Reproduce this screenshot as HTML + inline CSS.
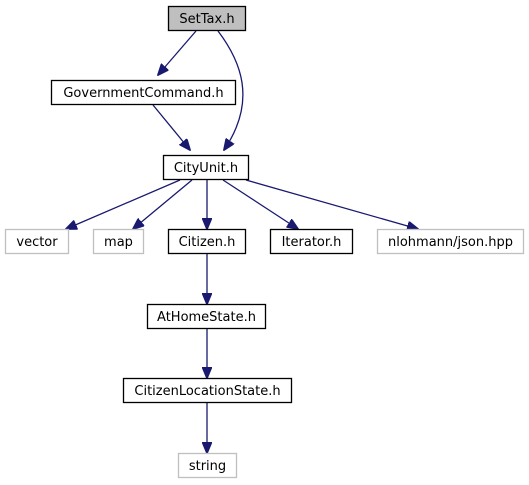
<!DOCTYPE html>
<html><head><meta charset="utf-8"><style>body{margin:0;background:#fff}svg{display:block}text{font-family:"DejaVu Sans","Liberation Sans",sans-serif;font-size:13px;fill:#000}</style></head><body>
<svg width="529" height="485" viewBox="0 0 529 485">
<defs><marker id="a" markerWidth="12" markerHeight="10" refX="11" refY="5" orient="auto" markerUnits="userSpaceOnUse"><path d="M0,0 L12,5 L0,10 z" fill="#191970" stroke="#191970"/></marker></defs>
<g fill="none" stroke="#191970" stroke-width="1.3">
<path d="M196,31 L158,75" marker-end="url(#a)"/>
<path d="M218,31 C240,60 258,100 224,150" marker-end="url(#a)"/>
<path d="M153,105 L190,150" marker-end="url(#a)"/>
<path d="M180,180 L66,229" marker-end="url(#a)"/>
<path d="M192,180 L133,229" marker-end="url(#a)"/>
<path d="M207,180 L207,229" marker-end="url(#a)"/>
<path d="M223,180 L298,229" marker-end="url(#a)"/>
<path d="M246,180 L418,229" marker-end="url(#a)"/>
<path d="M207,254 L207,304" marker-end="url(#a)"/>
<path d="M207,328 L207,378" marker-end="url(#a)"/>
<path d="M207,403 L207,453" marker-end="url(#a)"/>
</g>
<g stroke-width="1.3">
<rect x="168.5" y="6.5" width="77" height="24" fill="#bfbfbf" stroke="#000"/>
<rect x="51.5" y="80.5" width="184" height="24" fill="#fff" stroke="#000"/>
<rect x="163.5" y="155.5" width="85" height="24" fill="#fff" stroke="#000"/>
<rect x="5.5" y="229.5" width="63" height="24" fill="#fff" stroke="#bfbfbf"/>
<rect x="93.5" y="229.5" width="50" height="24" fill="#fff" stroke="#bfbfbf"/>
<rect x="168.5" y="229.5" width="77" height="24" fill="#fff" stroke="#000"/>
<rect x="270.5" y="229.5" width="82" height="24" fill="#fff" stroke="#000"/>
<rect x="377.5" y="229.5" width="146" height="24" fill="#fff" stroke="#bfbfbf"/>
<rect x="147.5" y="304.5" width="118" height="24" fill="#fff" stroke="#000"/>
<rect x="123.5" y="378.5" width="168" height="24" fill="#fff" stroke="#000"/>
<rect x="178.5" y="453.5" width="58" height="24" fill="#fff" stroke="#bfbfbf"/>
</g>
<g text-anchor="middle">
<text x="207" y="23">SetTax.h</text>
<text x="143.5" y="97">GovernmentCommand.h</text>
<text x="206" y="172">CityUnit.h</text>
<text x="37" y="246">vector</text>
<text x="118.5" y="246">map</text>
<text x="207" y="246">Citizen.h</text>
<text x="311.5" y="246">Iterator.h</text>
<text x="450.5" y="246">nlohmann/json.hpp</text>
<text x="206.5" y="321">AtHomeState.h</text>
<text x="207.5" y="395">CitizenLocationState.h</text>
<text x="207.5" y="470">string</text>
</g>
</svg>
</body></html>
